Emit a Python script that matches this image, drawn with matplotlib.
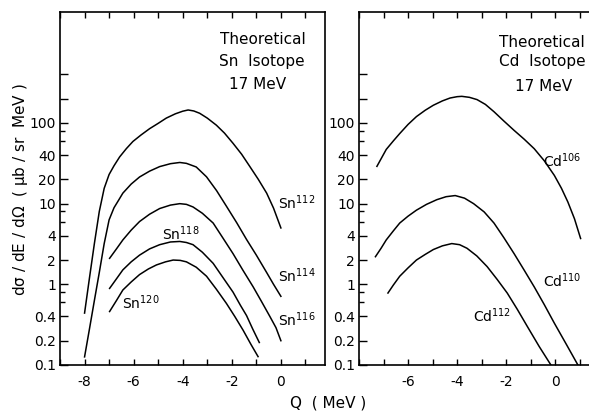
import numpy as np
import matplotlib
matplotlib.use('Agg')
import matplotlib.pyplot as plt
from matplotlib.ticker import FixedLocator, NullFormatter

# Q values (MeV) and cross sections (ub/sr MeV) for the Sn isotopes
q_sn112 = [-8, -7.8, -7.6, -7.4, -7.2, -7.0, -6.8, -6.57, -6.3, -6.03, -5.7, -5.35, -5.0,
           -4.67, -4.3, -4.0, -3.78, -3.55, -3.31, -3.0, -2.63, -2.3, -1.95, -1.6, -1.27,
           -0.92, -0.58, -0.3, 0]
sn112 = [0.44, 1.2, 3.2, 8.0, 15.5, 23, 29.5, 38, 48, 59, 71, 85, 99,
         115, 130, 140, 145, 141, 132, 115, 94, 75, 56, 41, 29,
         20, 13.5, 8.8, 5.0]

q_sn114 = [-8, -7.8, -7.6, -7.4, -7.2, -7.0, -6.8, -6.6, -6.44, -6.1, -5.76, -5.35, -4.94,
           -4.5, -4.12, -3.85, -3.45, -3.03, -2.62, -2.22, -1.8, -1.4, -1.0, -0.58, -0.3, 0]
sn114 = [0.126, 0.28, 0.63, 1.4, 3.2, 6.3, 8.9, 11.2, 13.5, 17.5, 21.4, 25.3, 28.8,
         31.3, 32.4, 31.6, 28.5, 21.5, 14.5, 9.3, 5.8, 3.6, 2.3, 1.4, 1.0, 0.71]

q_sn116 = [-6.98, -6.7, -6.44, -6.1, -5.76, -5.35, -4.94, -4.5, -4.12, -3.85, -3.58, -3.2,
           -2.76, -2.35, -1.95, -1.55, -1.13, -0.8, -0.45, -0.2, 0]
sn116 = [2.1, 2.75, 3.55, 4.7, 6.0, 7.4, 8.7, 9.6, 10, 9.8, 9.1, 7.6,
         5.75, 3.7, 2.4, 1.5, 0.93, 0.62, 0.4, 0.29, 0.2]

q_sn118 = [-6.98, -6.7, -6.44, -6.1, -5.76, -5.35, -4.94, -4.5, -4.12, -3.85, -3.58, -3.2,
           -2.76, -2.35, -1.95, -1.65, -1.4, -1.15, -0.88]
sn118 = [0.89, 1.17, 1.51, 1.9, 2.3, 2.75, 3.1, 3.35, 3.4, 3.3, 3.1, 2.5,
         1.82, 1.2, 0.8, 0.55, 0.41, 0.28, 0.19]

q_sn120 = [-6.98, -6.7, -6.44, -6.1, -5.76, -5.4, -5.07, -4.7, -4.39, -4.1, -3.85, -3.45,
           -3.03, -2.63, -2.22, -1.88, -1.54, -1.22, -0.93]
sn120 = [0.46, 0.63, 0.85, 1.07, 1.32, 1.55, 1.74, 1.9, 2.0, 1.98, 1.9, 1.63,
         1.26, 0.87, 0.58, 0.4, 0.27, 0.18, 0.127]

# Cd isotopes
q_cd106 = [-7.27, -7.1, -6.89, -6.6, -6.34, -6.0, -5.66, -5.3, -4.97, -4.6, -4.29, -4.0,
           -3.81, -3.5, -3.19, -2.85, -2.5, -2.1, -1.68, -1.27, -0.86, -0.45, -0.04,
           0.25, 0.51, 0.78, 1.03]
cd106 = [29, 36, 47, 60, 74, 96, 120, 144, 166, 188, 204, 212,
         214, 208, 195, 170, 138, 106, 81, 63, 48, 34, 22.4,
         15.5, 10.5, 6.5, 3.7]

q_cd110 = [-7.33, -7.1, -6.89, -6.6, -6.34, -6.0, -5.66, -5.25, -4.83, -4.45, -4.08, -3.7,
           -3.33, -2.9, -2.5, -2.1, -1.68, -1.27, -0.86, -0.45, -0.04, 0.45, 0.92]
cd110 = [2.2, 2.8, 3.55, 4.6, 5.75, 7.0, 8.3, 9.8, 11.2, 12.2, 12.6, 11.7,
         10, 7.9, 5.75, 3.8, 2.4, 1.5, 0.93, 0.56, 0.33, 0.18, 0.1]

q_cd112 = [-6.82, -6.6, -6.34, -6.0, -5.66, -5.3, -4.97, -4.6, -4.22, -3.9, -3.6, -3.2,
           -2.78, -2.37, -1.96, -1.55, -1.14, -0.66, -0.18]
cd112 = [0.78, 0.98, 1.26, 1.6, 2.0, 2.35, 2.7, 3.0, 3.2, 3.1, 2.8, 2.25,
         1.66, 1.15, 0.78, 0.49, 0.3, 0.17, 0.1]

y_major = [0.1, 0.2, 0.4, 1, 2, 4, 10, 20, 40, 100, 200, 400]
y_labels = ['0.1', '0.2', '0.4', '1', '2', '4', '10', '20', '40', '100', '', '']
y_minor = [0.6, 0.8, 6, 8, 60, 80]

sn_curves = [
    (q_sn112, sn112, r'Sn$^{112}$', -0.1, 10.2),
    (q_sn114, sn114, r'Sn$^{114}$', -0.1, 1.27),
    (q_sn116, sn116, r'Sn$^{116}$', -0.1, 0.36),
    (q_sn118, sn118, r'Sn$^{118}$', -4.86, 4.2),
    (q_sn120, sn120, r'Sn$^{120}$', -6.49, 0.6),
]
cd_curves = [
    (q_cd106, cd106, r'Cd$^{106}$', -0.5, 34),
    (q_cd110, cd110, r'Cd$^{110}$', -0.5, 1.1),
    (q_cd112, cd112, r'Cd$^{112}$', -3.34, 0.41),
]

plt.rcParams['mathtext.default'] = 'regular'

fig = plt.figure(figsize=(5.89, 4.12), dpi=100)
ax1 = fig.add_axes([0.1019, 0.1141, 0.45, 0.8576])
ax2 = fig.add_axes([0.6095, 0.1141, 0.45, 0.8576])


def style_axis(ax, xlim, xlabels):
    ax.set_yscale('log')
    ax.set_ylim(0.1, 2400)
    ax.set_xlim(*xlim)
    ax.yaxis.set_major_locator(FixedLocator(y_major))
    ax.set_yticklabels(y_labels)
    ax.yaxis.set_minor_locator(FixedLocator(y_minor))
    ax.yaxis.set_minor_formatter(NullFormatter())
    xt = list(range(int(np.ceil(xlim[0])), int(np.floor(xlim[1])) + 1))
    ax.set_xticks(xt)
    ax.set_xticklabels([str(v) if v in xlabels else '' for v in xt])
    ax.tick_params(axis='y', which='major', direction='in', length=6, width=1,
                   labelsize=10, pad=3, right=False)
    ax.tick_params(axis='y', which='minor', direction='in', length=3.5, width=1,
                   right=False)
    ax.tick_params(axis='x', which='major', direction='in', length=4.5, width=1,
                   labelsize=10, pad=7, top=True)
    for sp in ax.spines.values():
        sp.set_linewidth(1.2)


style_axis(ax1, (-9, 1.8), [-8, -6, -4, -2, 0])
style_axis(ax2, (-8, 2.8), [-6, -4, -2, 0])

for ax, curves in ((ax1, sn_curves), (ax2, cd_curves)):
    for q, sig, name, tx, ty in curves:
        ax.plot(q, sig, color='black', lw=1.1, solid_joinstyle='round')
        ax.text(tx, ty, name, fontsize=10, ha='left', va='center')

ax1.text(0.766, 0.92, 'Theoretical', transform=ax1.transAxes, ha='center', va='center', fontsize=11)
ax1.text(0.762, 0.86, 'Sn  Isotope', transform=ax1.transAxes, ha='center', va='center', fontsize=11)
ax1.text(0.747, 0.795, '17 MeV', transform=ax1.transAxes, ha='center', va='center', fontsize=11)

ax2.text(0.69, 0.913, 'Theoretical', transform=ax2.transAxes, ha='center', va='center', fontsize=11)
ax2.text(0.69, 0.86, 'Cd  Isotope', transform=ax2.transAxes, ha='center', va='center', fontsize=11)
ax2.text(0.698, 0.787, '17 MeV', transform=ax2.transAxes, ha='center', va='center', fontsize=11)

fig.text(21 / 589, 1 - 190 / 412, r'd$\sigma$ / dE / d$\Omega$  ( $\mu$b / sr  MeV )',
         rotation=90, ha='center', va='center', fontsize=11)
fig.text(328 / 589, 1 - 403 / 412, 'Q  ( MeV )', ha='center', va='center', fontsize=11)

fig.savefig('out.png', dpi=100)
